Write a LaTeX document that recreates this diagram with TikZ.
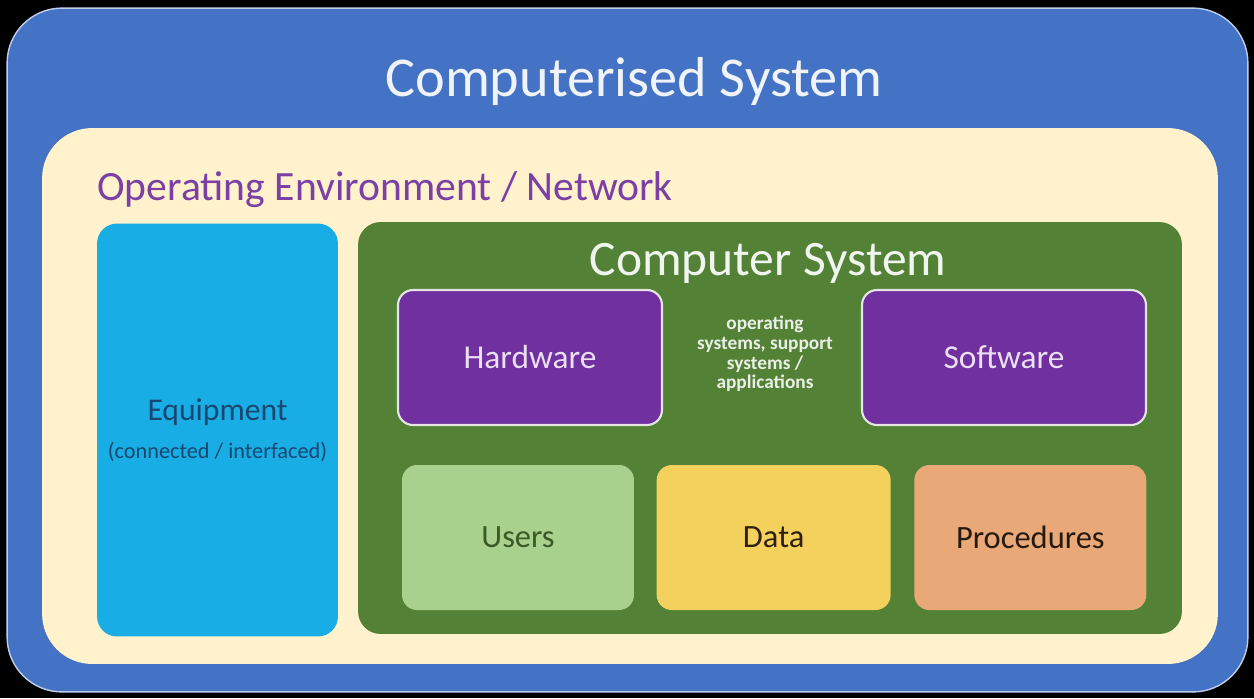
\documentclass[tikz,border=0pt]{standalone}
\usepackage{fontspec}
\setmainfont{Carlito}
\usetikzlibrary{positioning}
\definecolor{sysblue}{HTML}{4472C4}
\definecolor{envcream}{HTML}{FFF2CC}
\definecolor{equipcyan}{HTML}{19ADE6}
\definecolor{equiptext}{HTML}{17476E}
\definecolor{compgreen}{HTML}{538135}
\definecolor{hwpurple}{HTML}{7030A0}
\definecolor{usergreen}{HTML}{A9D18E}
\definecolor{datayellow}{HTML}{F4D05C}
\definecolor{procorange}{HTML}{E8A878}
\definecolor{envtext}{HTML}{7B3FA5}

\begin{document}
\begin{tikzpicture}[
    x=0.02cm, y=-0.02cm,
    node distance=0.44cm,
    frame/.style={rectangle,rounded corners=#1},
    part/.style={rectangle,rounded corners=0.3cm,align=center,minimum width=4.64cm,minimum height=2.9cm,font=\fontsize{18.5}{22}\selectfont},
    swbox/.style={part,fill=hwpurple,draw=white!80!gray,line width=1.2pt,text=white!85!hwpurple,minimum height=2.7cm,font=\fontsize{19}{22}\selectfont}
]
\fill[black] (0,0) rectangle (1254,698);

\node[frame=1.1cm,fill=sysblue,draw=white!65!sysblue,line width=0.8pt,minimum width=24.82cm,minimum height=13.68cm] (sys) at (627.5,350) {};
\node[text=white!92!sysblue,font=\fontsize{32}{38}\selectfont] (systitle) at (634,82) {Computerised System};

\node[frame=1cm,fill=envcream,minimum width=23.52cm,minimum height=10.72cm] (env) at (630,396) {};
\node[anchor=west,inner sep=0pt,text=envtext,font=\fontsize{23.7}{28}\selectfont] (envtitle) at (97,190) {Operating Environment / Network};

\node[frame=0.4cm,fill=equipcyan,minimum width=4.82cm,minimum height=8.26cm,text=equiptext,align=center,font=\fontsize{18}{21}\selectfont] (equip) at (217.5,430)
  {Equipment\\[1pt]{\fontsize{12.7}{14}\selectfont (connected / interfaced)}};

\node[frame=0.45cm,fill=compgreen,minimum width=16.48cm,minimum height=8.24cm] (comp) at (770,428) {};
\node[text=white!92!compgreen,font=\fontsize{28.2}{33}\selectfont] (comptitle) at (768,263) {Computer System};

\node[swbox,minimum width=5.28cm] (hw) at (530,357.5) {Hardware};
\node[swbox,minimum width=5.68cm] (sw) at (1004,357.5) {Software};
\node[align=center,text=white!88!compgreen,font=\fontsize{11}{11.2}\selectfont\bfseries] (os) at (765,354)
  {operating\\systems, support\\systems /\\applications};

\node[part,fill=usergreen,text=compgreen!70!black] (users) at (518,537.5) {Users};
\node[part,fill=datayellow,text=black!75!brown,minimum width=4.68cm,right=of users] (data) {Data};
\node[part,fill=procorange,text=black!80!brown,right=0.46cm of data] (proc) {Procedures};
\end{tikzpicture}
\end{document}
